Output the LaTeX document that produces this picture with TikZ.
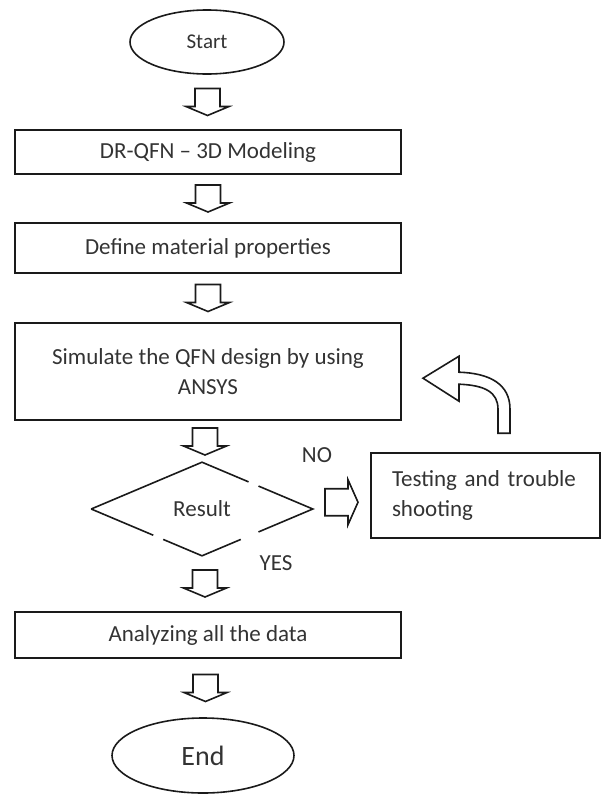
\documentclass[tikz,border=0pt]{standalone}
\usepackage{fontspec}
\setmainfont{Carlito}
\usetikzlibrary{shapes.geometric,calc}
\definecolor{txtc}{HTML}{333333}
\definecolor{linec}{HTML}{1A1A1A}
\begin{document}
\begin{tikzpicture}[x=1pt,y=-1pt,
  line width=1.6pt,
  every node/.style={font=\fontsize{23}{30}\selectfont, text=txtc},
  box/.style={draw=linec, rectangle, minimum width=386pt, inner sep=0pt},
  oval/.style={draw=linec, ellipse, inner sep=0pt},
  lbl/.style={inner sep=0pt},
  hollow/.style={draw=linec, fill=white, line width=1.6pt, line join=miter},
  dnarrow/.pic={\draw[hollow] (-12.5,-13.5) -- (-12.5,4.5) -- (-21.5,4.5) -- (0,13.5) -- (21.5,4.5) -- (12.5,4.5) -- (12.5,-13.5) -- cycle;},
  rtarrow/.pic={\draw[hollow] (-16.5,-13.5) -- (6.5,-13.5) -- (6.5,-22.5) -- (16.5,0) -- (6.5,22.5) -- (6.5,13.5) -- (-16.5,13.5) -- cycle;}
]
\useasboundingbox (0,0) rectangle (601,795);

\node[oval, minimum width=154pt, minimum height=64pt, font=\fontsize{21}{24}\selectfont] (start) at (207,42) {Start};
\node[box, minimum height=44pt] (b1) at (208,152) {DR-QFN \textendash{} 3D Modeling};
\node[box, minimum height=50pt] (b2) at (208,248) {Define material properties};
\node[box, minimum height=97pt, align=center] (b3) at (208,371.5) {Simulate the QFN design by using\\ANSYS};
\node[diamond, minimum width=220pt, minimum height=92pt, inner sep=0pt] (dec) at (202,509) {Result};
\node[box, minimum height=46pt] (b4) at (208,635) {Analyzing all the data};
\node[oval, minimum width=182pt, minimum height=75pt, font=\fontsize{28}{32}\selectfont] (end) at (203,755.5) {End};
\node[draw=linec, rectangle, minimum width=229pt, minimum height=85pt, text width=187pt, align=left, inner sep=0pt] (test) at (485.5,495.5) {Testing and trouble\\shooting};
\node[lbl] (no) at (317,455) {NO};
\node[lbl] (yes) at (276,563) {YES};

% diamond outline (with the small breaks seen in the original)
\draw[linec] (dec.west) -- (dec.north) -- ($(dec.north)!.42!(dec.east)$);
\draw[linec] ($(dec.north)!.51!(dec.east)$) -- (dec.east) -- ($(dec.east)!.49!(dec.south)$);
\draw[linec] ($(dec.east)!.65!(dec.south)$) -- (dec.south) -- ($(dec.south)!.35!(dec.west)$);
\draw[linec] ($(dec.south)!.44!(dec.west)$) -- (dec.west);

% hollow block arrows
\pic at ($(start.south)!.5!(b1.north)$) {dnarrow};
\pic at ($(b1.south)!.5!(b2.north)$) {dnarrow};
\pic at ($(b2.south)!.5!(b3.north)$) {dnarrow};
\pic at ($(b3.south)!.5!(dec.north)$) {dnarrow};
\pic at ($(dec.south)!.5!(b4.north)$) {dnarrow};
\pic at ($(b4.south)!.5!(end.north)$) {dnarrow};
\pic at ($(dec.east)!.5!(test.west)$) {rtarrow};

% curved return arrow
\begin{scope}[shift={(test.north)}]
\draw[hollow] (12.5,-19) -- (12.5,-43) .. controls (12.5,-60) and (-0.5,-67) .. (-26.5,-68)
  -- (-26.5,-51) -- (-62.5,-74) -- (-26.5,-96) -- (-26.5,-80)
  .. controls (4.5,-79) and (24.5,-68) .. (24.5,-43) -- (24.5,-19) -- cycle;
\end{scope}
\end{tikzpicture}
\end{document}
